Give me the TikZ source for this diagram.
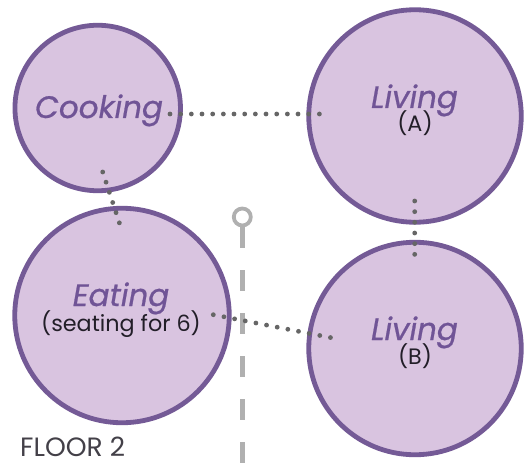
\documentclass[tikz,border=0pt]{standalone}
\usepackage{fontspec}
\setmainfont{Poppins}
\newfontfamily\namefont{Poppins}[FakeBold=0.7]
\definecolor{roomfill}{RGB}{217,196,224}
\definecolor{roomline}{RGB}{116,90,150}
\definecolor{roomtext}{RGB}{112,84,150}
\definecolor{subtext}{RGB}{34,30,40}
\definecolor{dotgray}{RGB}{102,102,102}
\definecolor{walltone}{RGB}{176,176,176}
\begin{document}
\begin{tikzpicture}[x=1pt,y=-1pt,
  room/.style={circle,draw=roomline,fill=roomfill,line width=4.8pt,inner sep=0pt},
  roomname/.style={anchor=base,text=roomtext,font=\namefont\fontsize{31}{32}\selectfont\itshape,inner sep=0pt},
  roomsub/.style={anchor=base,text=subtext,font=\fontsize{22.3}{24}\selectfont,inner sep=0pt},
  link/.style={dotgray,line width=4.8pt,line cap=round,dash pattern=on 0pt off #1},
  link/.default=10.7pt,
  wall/.style={walltone,line width=5pt}]
\useasboundingbox (0,0) rectangle (524,465);
% rooms
\node[room,minimum size=165.5pt] (cook) at (97.7,108) {};
\node[room,minimum size=212.5pt] (livA) at (415,116) {};
\node[room,minimum size=214.5pt] (eat) at (122,315.5) {};
\node[room,minimum size=212.5pt] (livB) at (415,348.5) {};
% labels
\node[roomname] (tcook) at (99,118) {Cooking};
\node[roomname] (tlivA) at (414.5,108) {Living};
\node[roomsub] (slivA) at (415,132) {(A)};
\node[roomname] (teat) at (121,306) {Eating};
\node[roomsub] (seat) at (121,331) {(seating for 6)};
\node[roomname] (tlivB) at (414.5,340) {Living};
\node[roomsub] (slivB) at (415,364) {(B)};
\node[anchor=base west,inner sep=0pt,text=subtext!85,font=\fontsize{26.5}{28}\selectfont] (floor) at (20,456) {FLOOR 2};
% wall marker
\node[circle,draw=walltone,line width=3.8pt,minimum size=17pt,inner sep=0pt] (pin) at (242.3,217) {};
\coordinate (wallend) at (242.3,470);
\draw[wall,dash pattern=on 21pt off 22pt] (pin.south) -- (wallend);
% connectors
\coordinate (a1) at (170,114);
\coordinate (a2) at (330,114);
\coordinate (b1) at (102.7,172);
\coordinate (b2) at (122.7,233);
\coordinate (c1) at (414.7,201);
\coordinate (c2) at (414.7,265);
\coordinate (d1) at (213.3,314.7);
\coordinate (d2) at (332.7,338);
\draw[link=10.67pt] (a1) -- (a2);
\draw[link=10.7pt] (b1) -- (b2);
\draw[link=10.67pt] (c1) -- (c2);
\draw[link=10.85pt] (d1) -- (d2);
\end{tikzpicture}
\end{document}
